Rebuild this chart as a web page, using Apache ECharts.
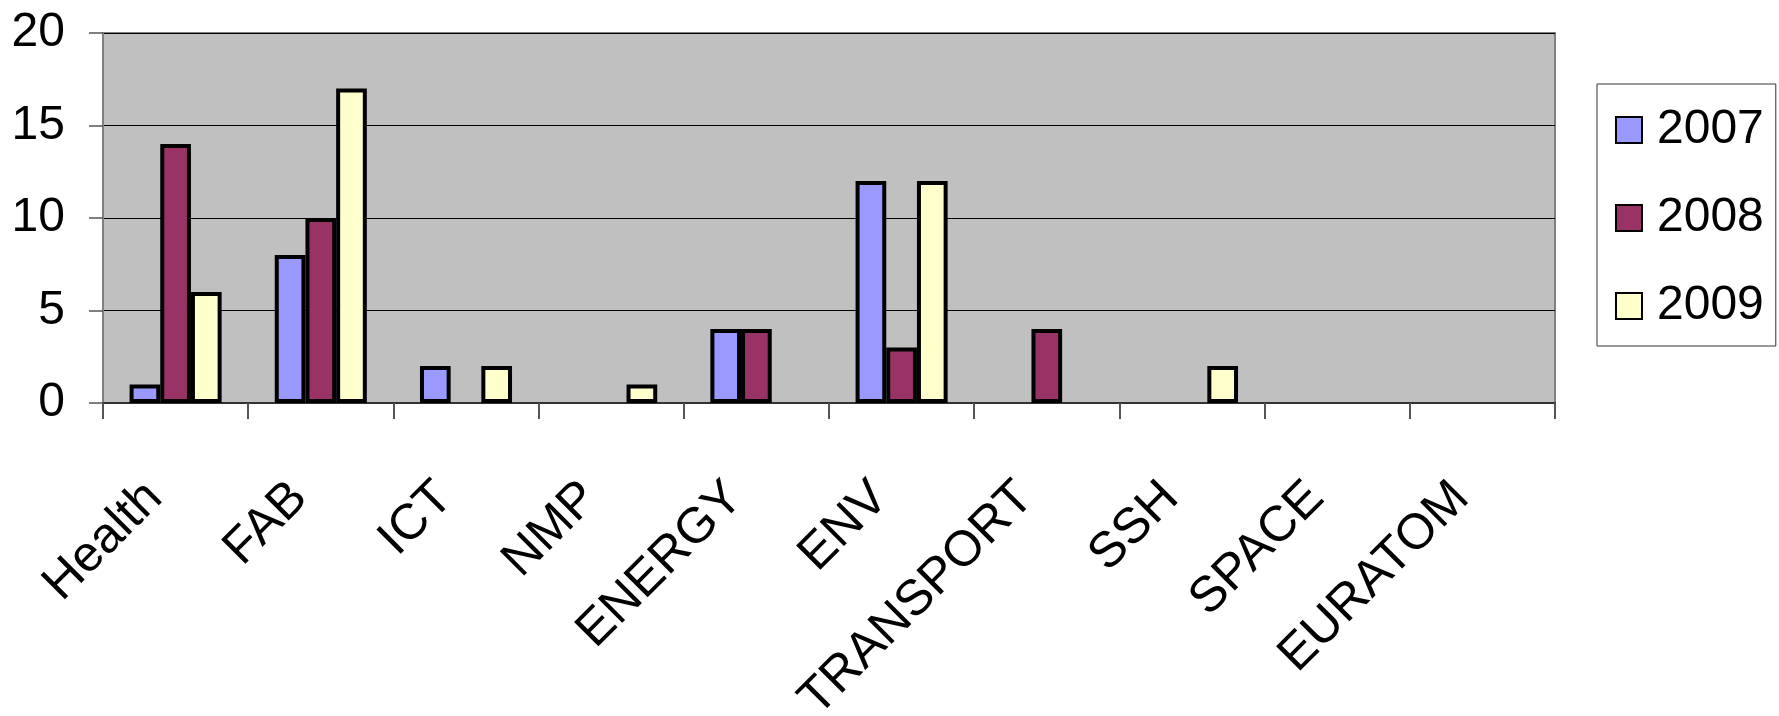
<!DOCTYPE html>
<html>
<head>
<meta charset="utf-8">
<script src="https://cdn.jsdelivr.net/npm/echarts@6/dist/echarts.min.js"></script>
<style>
html,body{margin:0;padding:0;background:#fff;}
#chart{width:1779px;height:716px;}
</style>
</head>
<body>
<div id="chart"></div>
<script>
const categories = ['Health','FAB','ICT','NMP','ENERGY','ENV','TRANSPORT','SSH','SPACE','EURATOM'];
const seriesNames = ['2007','2008','2009'];
const values2007 = [1, 8, 2, 0, 4, 12, 0, 0, 0, 0];
const values2008 = [14, 10, 0, 0, 4, 3, 4, 0, 0, 0];
const values2009 = [6, 17, 2, 1, 0, 12, 0, 2, 0, 0];
const yTicks = [0, 5, 10, 15, 20];
const colors = ['#9999FF', '#993366', '#FFFFCC'];

const FONT = '"Liberation Sans", Arial, sans-serif';
const allValues = [values2007, values2008, values2009];

const chart = echarts.init(document.getElementById('chart'), null, {renderer: 'canvas'});
chart.setOption({
  animation: false,
  backgroundColor: '#ffffff',
  grid: {
    left: 103, right: 224, top: 33, bottom: 313,
    containLabel: false,
    outerBoundsMode: 'none',
    show: true, backgroundColor: '#C0C0C0', borderColor: '#808080', borderWidth: 2
  },
  legend: {
    orient: 'vertical',
    left: 1597, top: 84,
    padding: [22, 12, 16, 18],
    itemGap: 40,
    itemWidth: 26, itemHeight: 26,
    borderColor: '#333', borderWidth: 1,
    backgroundColor: '#fff',
    icon: 'rect',
    textStyle: {fontFamily: FONT, fontSize: 48, color: '#000', padding: [0, 0, 0, 10]},
    data: seriesNames
  },
  xAxis: {
    type: 'category',
    data: categories,
    axisLine: {show: true, lineStyle: {color: '#333', width: 2}},
    axisTick: {show: true, length: 16, lineStyle: {color: '#555', width: 2}},
    axisLabel: {interval: 0, rotate: 45, margin: 66, padding: [0, 30, 0, 0],
      fontFamily: FONT, fontSize: 50, color: '#000', hideOverlap: false},
    splitLine: {show: false}
  },
  yAxis: {
    type: 'value',
    min: yTicks[0], max: yTicks[yTicks.length - 1], interval: yTicks[1] - yTicks[0],
    axisLine: {show: true, lineStyle: {color: '#808080', width: 2}},
    axisTick: {show: true, length: 14, lineStyle: {color: '#555', width: 1.5}},
    axisLabel: {margin: 38, fontFamily: FONT, fontSize: 48, color: '#000'},
    splitLine: {show: true, lineStyle: {color: '#000', width: 1}}
  },
  series: seriesNames.map((name, i) => ({
    name: name,
    type: 'bar',
    barGap: '0%',
    barCategoryGap: '36.6%',
    data: allValues[i].map(v => v === 0 ? '-' : v),
    itemStyle: {color: colors[i], borderColor: '#000', borderWidth: 4}
  }))
});
</script>
</body>
</html>
